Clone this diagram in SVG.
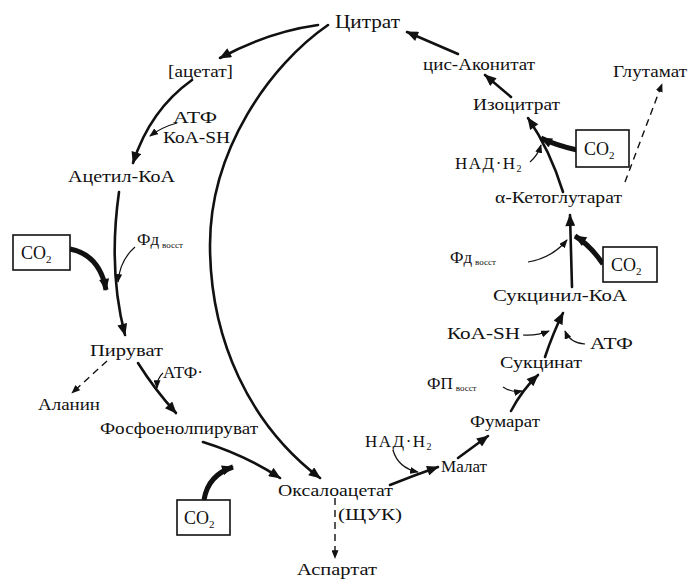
<svg xmlns="http://www.w3.org/2000/svg" width="696" height="582" viewBox="0 0 696 582">
<style>
text{font-family:"Liberation Serif","DejaVu Serif",serif;fill:#111;}
.t15{font-size:16px}
.t16{font-size:17px}
.sub{font-size:9px}
.main{fill:none;stroke:#111;stroke-width:2.6;stroke-linecap:round}
.thick{fill:none;stroke:#111;stroke-width:5;stroke-linecap:butt}
.thin{fill:none;stroke:#111;stroke-width:1.2}
.dash{fill:none;stroke:#111;stroke-width:1.4;stroke-dasharray:7 5}
.box{fill:#fff;stroke:#111;stroke-width:1.6}
</style>
<defs>
<marker id="ah" viewBox="0 0 12 10" refX="11" refY="5" markerWidth="13" markerHeight="10" markerUnits="userSpaceOnUse" orient="auto"><path d="M0,0 L12,5 L0,10 z" fill="#111"/></marker>
<marker id="as" viewBox="0 0 10 8" refX="9" refY="4" markerWidth="9" markerHeight="7" markerUnits="userSpaceOnUse" orient="auto"><path d="M0,0 L10,4 L0,8 z" fill="#111"/></marker>
</defs>
<rect width="696" height="582" fill="#fff"/>

<g id="connectors">
<path class="main" d="M 318 25 Q 268 32 220 58" marker-end="url(#ah)"/>
<path class="main" d="M 192 80 Q 150 110 133 163" marker-end="url(#ah)"/>
<path class="thin" d="M 177 123 Q 162 127 150 136" marker-end="url(#as)"/>
<path class="main" d="M 328 25 C 270 65, 210 150, 210 245 C 210 340, 250 425, 320 478" marker-end="url(#ah)"/>
<path class="main" d="M 119 192 Q 108 270 125 335" marker-end="url(#ah)"/>
<path class="thick" d="M 70 249 Q 100 255 106 290" marker-end="url(#ah)"/>
<path class="thin" d="M 135 247 Q 120 260 118 282" marker-end="url(#as)"/>
<path class="dash" d="M 107 361 L 72 393" marker-end="url(#as)"/>
<path class="main" d="M 138 363 Q 155 390 176 413" marker-end="url(#ah)"/>
<path class="thin" d="M 163 373 Q 157 378 157 388" marker-end="url(#as)"/>
<path class="main" d="M 203 442 Q 245 455 280 478" marker-end="url(#ah)"/>
<path class="thick" d="M 204 500 Q 208 475 233 467" marker-end="url(#ah)"/>
<path class="dash" d="M 335 498 L 335 558" marker-end="url(#as)"/>
<path class="main" d="M 390 485 Q 415 475 438 467" marker-end="url(#ah)"/>
<path class="thin" d="M 393 450 Q 398 468 418 472" marker-end="url(#as)"/>
<path class="main" d="M 458 458 L 488 436" marker-end="url(#ah)"/>
<path class="main" d="M 511 411 Q 522 390 538 375" marker-end="url(#ah)"/>
<path class="thin" d="M 503 387 Q 512 393 522 391" marker-end="url(#as)"/>
<path class="main" d="M 545 357 Q 553 333 563 313" marker-end="url(#ah)"/>
<path class="thin" d="M 523 335 Q 537 336 549 331" marker-end="url(#as)"/>
<path class="thin" d="M 585 344 Q 570 343 565 331" marker-end="url(#as)"/>
<path class="main" d="M 572 287 L 570 215" marker-end="url(#ah)"/>
<path class="thin" d="M 528 262 Q 552 258 567 240" marker-end="url(#as)"/>
<path class="thick" d="M 603 264 Q 590 245 575 236" marker-end="url(#ah)"/>
<path class="main" d="M 563 192 Q 550 150 528 118" marker-end="url(#ah)"/>
<path class="thin" d="M 530 162 Q 538 155 541 145" marker-end="url(#as)"/>
<path class="thick" d="M 577 150 Q 555 145 541 138" marker-end="url(#ah)"/>
<path class="main" d="M 511 97 L 485 75" marker-end="url(#ah)"/>
<path class="main" d="M 458 54 L 407 32" marker-end="url(#ah)"/>
<path class="dash" d="M 625 182 L 662 84" marker-end="url(#as)"/>
</g>

<g id="citrate"><text x="335" y="28" font-size="19" textLength="65" lengthAdjust="spacingAndGlyphs">Цитрат</text></g>
<g id="acetate"><text class="t15" x="168" y="77" textLength="65" lengthAdjust="spacingAndGlyphs">[ацетат]</text></g>
<g id="atp1"><text class="t16" x="173" y="123" textLength="44" lengthAdjust="spacingAndGlyphs">АТФ</text></g>
<g id="coash1"><text class="t15" x="163" y="143" textLength="67" lengthAdjust="spacingAndGlyphs">КоА-SH</text></g>
<g id="acetylcoa"><text class="t15" x="68" y="182" textLength="107" lengthAdjust="spacingAndGlyphs">Ацетил-КоА</text></g>
<g id="co2-left"><rect class="box" x="13" y="235" width="57" height="35"/><text x="21" y="259" font-size="18">CO<tspan font-size="11" dy="4">2</tspan></text></g>
<g id="fd-left"><text class="t16" x="137" y="245">Фд<tspan class="sub" dx="3" dy="3">восст</tspan></text></g>
<g id="pyruvate"><text class="t16" x="90" y="356" textLength="73" lengthAdjust="spacingAndGlyphs">Пируват</text></g>
<g id="atp2"><text class="t16" x="163" y="378" textLength="40" lengthAdjust="spacingAndGlyphs">АТФ·</text></g>
<g id="alanine"><text class="t15" x="38" y="410" textLength="62" lengthAdjust="spacingAndGlyphs">Аланин</text></g>
<g id="pep"><text class="t16" x="100" y="434" textLength="158" lengthAdjust="spacingAndGlyphs">Фосфоенолпируват</text></g>
<g id="co2-bottom"><rect class="box" x="177" y="500" width="53" height="35"/><text x="184" y="524" font-size="18">CO<tspan font-size="11" dy="4">2</tspan></text></g>
<g id="oxaloacetate"><text class="t15" x="278" y="496" textLength="115" lengthAdjust="spacingAndGlyphs">Оксалоацетат</text><text class="t16" x="338" y="520" textLength="64" lengthAdjust="spacingAndGlyphs">(ЩУК)</text></g>
<g id="aspartate"><text class="t15" x="297" y="575" textLength="80" lengthAdjust="spacingAndGlyphs">Аспартат</text></g>
<g id="nadh-bottom"><text class="t16" x="365" y="447" letter-spacing="1.5">НАД·Н<tspan font-size="10" dy="3">2</tspan></text></g>
<g id="malate"><text class="t15" x="441" y="472" textLength="46" lengthAdjust="spacingAndGlyphs">Малат</text></g>
<g id="fumarate"><text class="t16" x="470" y="427" textLength="70" lengthAdjust="spacingAndGlyphs">Фумарат</text></g>
<g id="fp"><text class="t16" x="427" y="389">ФП<tspan class="sub" dx="3" dy="2">восст</tspan></text></g>
<g id="succinate"><text class="t16" x="500" y="368" textLength="82" lengthAdjust="spacingAndGlyphs">Сукцинат</text></g>
<g id="coash2"><text class="t16" x="447" y="339" textLength="73" lengthAdjust="spacingAndGlyphs">КоА-SH</text></g>
<g id="atp3"><text class="t16" x="590" y="349" textLength="43" lengthAdjust="spacingAndGlyphs">АТФ</text></g>
<g id="succinylcoa"><text class="t16" x="493" y="301" textLength="134" lengthAdjust="spacingAndGlyphs">Сукцинил-КоА</text></g>
<g id="fd-right"><text class="t16" x="450" y="263">Фд<tspan class="sub" dx="3" dy="2">восст</tspan></text></g>
<g id="co2-right-lower"><rect class="box" x="603" y="247" width="54" height="35"/><text x="611" y="271" font-size="18">CO<tspan font-size="11" dy="4">2</tspan></text></g>
<g id="akg"><text class="t15" x="495" y="203" textLength="127" lengthAdjust="spacingAndGlyphs">α-Кетоглутарат</text></g>
<g id="nadh-right"><text class="t16" x="455" y="169" letter-spacing="1.5">НАД·Н<tspan font-size="10" dy="3">2</tspan></text></g>
<g id="co2-right-upper"><rect class="box" x="576" y="130" width="53" height="37"/><text x="584" y="155" font-size="18">CO<tspan font-size="11" dy="4">2</tspan></text></g>
<g id="isocitrate"><text class="t15" x="473" y="110" textLength="87" lengthAdjust="spacingAndGlyphs">Изоцитрат</text></g>
<g id="cisaconitate"><text class="t15" x="423" y="70" textLength="112" lengthAdjust="spacingAndGlyphs">цис-Аконитат</text></g>
<g id="glutamate"><text class="t15" x="613" y="77" textLength="74" lengthAdjust="spacingAndGlyphs">Глутамат</text></g>
</svg>
